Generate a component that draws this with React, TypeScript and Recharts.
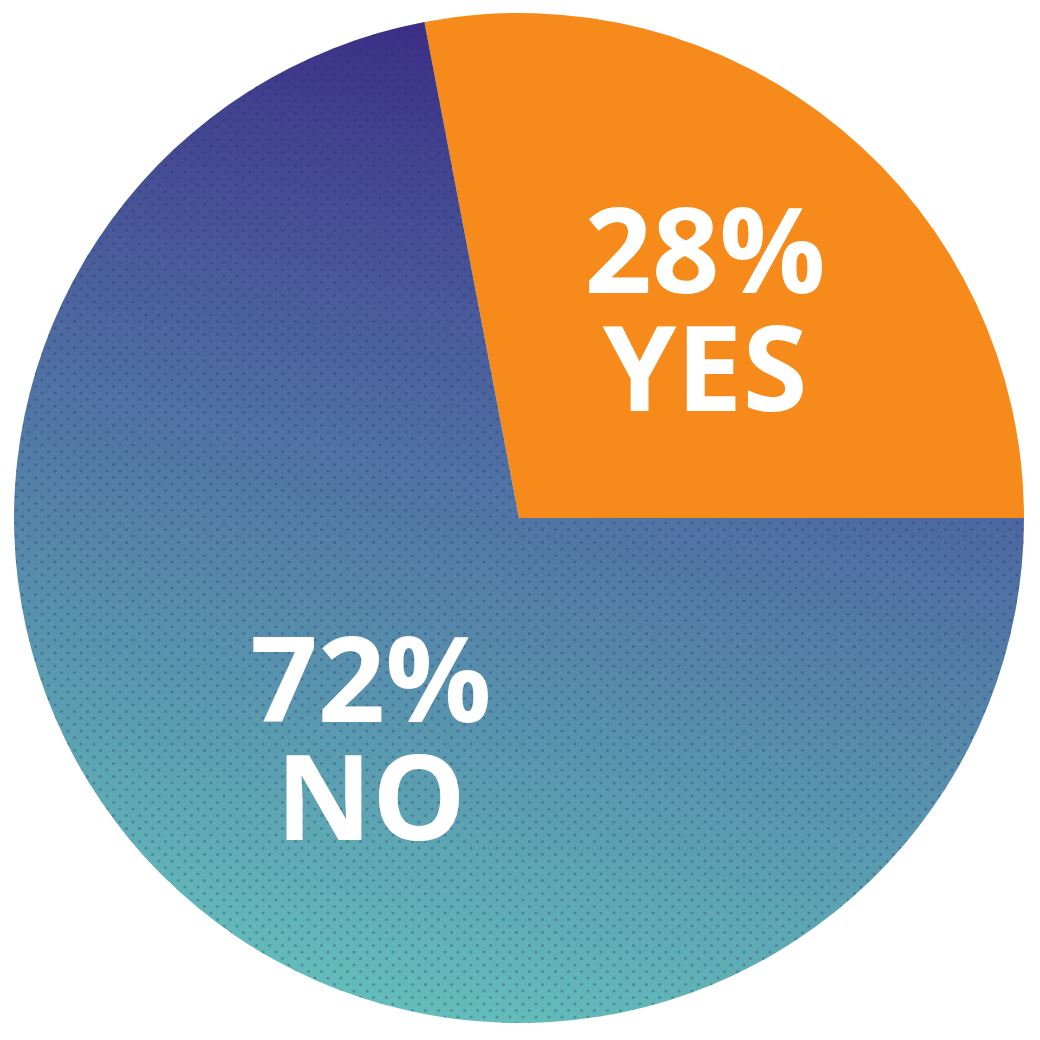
import { PieChart, Pie, Cell } from 'recharts';

const ANSWERS = ['YES', 'NO'];
const SHARES = [28, 72];

const data = ANSWERS.map((name, i) => ({ name, value: SHARES[i] }));

const RADIAN = Math.PI / 180;
// small nudges so each label sits where the original placed it
const LABEL_NUDGE: Record<string, [number, number]> = {
  YES: [9, 6],
  NO: [29, 7],
};

function renderLabel(props: any) {
  const { cx, cy, midAngle, outerRadius, name, value } = props;
  const r = outerRadius * 0.55;
  const [nx, ny] = LABEL_NUDGE[name] ?? [0, 0];
  const x = cx + r * Math.cos(-midAngle * RADIAN) + nx;
  const y = cy + r * Math.sin(-midAngle * RADIAN) + ny;
  return (
    <text
      x={x}
      y={y}
      textAnchor="middle"
      fill="#ffffff"
      style={{ fontFamily: '"Open Sans", sans-serif', fontWeight: 700, fontSize: 118 }}
    >
      <tspan x={x} y={y - 17}>{`${value}%`}</tspan>
      <tspan x={x} y={y + 101}>{name}</tspan>
    </text>
  );
}

export default function App() {
  return (
    <div style={{ position: 'absolute', left: 0, top: 0, width: 1040, height: 1040, background: '#fff' }}>
      <PieChart width={1040} height={1040} margin={{ top: 0, right: 0, bottom: 0, left: 0 }}>
        <defs>
          <linearGradient id="noGrad" x1="0.62" y1="0" x2="0.4" y2="1">
            <stop offset="0%" stopColor="#3a2783" />
            <stop offset="45%" stopColor="#4f6fa3" />
            <stop offset="100%" stopColor="#64bfba" />
          </linearGradient>
          <pattern id="dots" width="13" height="13" patternUnits="userSpaceOnUse">
            <circle cx="3" cy="3" r="1.6" fill="#1f2a6a" fillOpacity={0.3} />
            <circle cx="9.5" cy="9.5" r="1.6" fill="#1f2a6a" fillOpacity={0.3} />
          </pattern>
        </defs>
        <Pie
          data={data}
          dataKey="value"
          nameKey="name"
          cx={519}
          cy={518}
          outerRadius={505}
          startAngle={0}
          endAngle={360}
          stroke="none"
          labelLine={false}
          isAnimationActive={false}
        >
          <Cell fill="#f68a1a" />
          <Cell fill="url(#noGrad)" />
        </Pie>
        <Pie
          data={data}
          dataKey="value"
          nameKey="name"
          cx={519}
          cy={518}
          outerRadius={505}
          startAngle={0}
          endAngle={360}
          stroke="none"
          label={renderLabel}
          labelLine={false}
          isAnimationActive={false}
        >
          <Cell fill="transparent" />
          <Cell fill="url(#dots)" />
        </Pie>
      </PieChart>
    </div>
  );
}
